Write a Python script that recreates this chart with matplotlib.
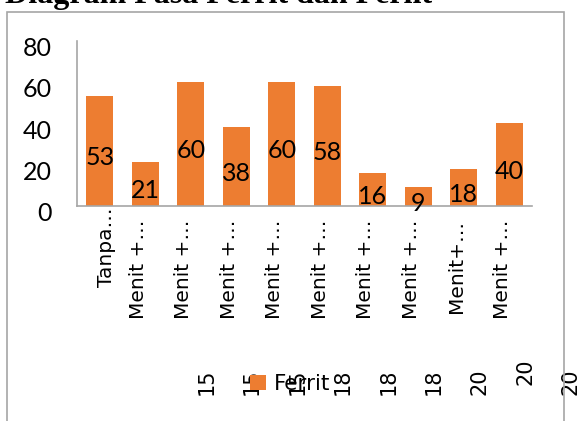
import matplotlib.pyplot as plt
from matplotlib import transforms
from matplotlib.patches import Rectangle

categories = ["Tanpa…", "Menit +…", "Menit +…", "Menit +…", "Menit +…",
              "Menit +…", "Menit +…", "Menit +…", "Menit+…", "Menit +…"]
minutes = ["", "15", "15", "15", "18", "18", "18", "20", "20", "20"]
ferrit = [53, 21, 60, 38, 60, 58, 16, 9, 18, 40]

orange = "#ED7D31"
grey = "#a6a6a6"

fig = plt.figure(figsize=(5.8, 4.21), dpi=100)
ax = fig.add_axes([77 / 580, 1 - 205.7 / 421, 455 / 580, 165 / 421])

x = list(range(len(ferrit)))
bars = ax.bar(x, ferrit, width=0.59, color=orange, label="Ferrit")

ax.set_xlim(-0.5, len(ferrit) - 0.5)
ax.set_ylim(0, 80)
ax.set_yticks([0, 20, 40, 60, 80])
ax.tick_params(axis="y", length=0, pad=18, labelsize=18)
for lbl in ax.get_yticklabels():
    lbl.set_fontfamily("Lato")
    lbl.set_transform(lbl.get_transform() + transforms.ScaledTranslation(0, -0.06, fig.dpi_scale_trans))

ax.set_xticks(x)
ax.set_xticklabels(categories, rotation=90, fontsize=14.5, va="top", ha="center")
ax.tick_params(axis="x", length=0, pad=10)
for i, lbl in enumerate(ax.get_xticklabels()):
    dx, dy = (0.07, 0.12) if i == 0 else (-0.07, 0)
    lbl.set_transform(lbl.get_transform() + transforms.ScaledTranslation(dx, dy, fig.dpi_scale_trans))

for s in ["top", "right"]:
    ax.spines[s].set_visible(False)
for s in ["left", "bottom"]:
    ax.spines[s].set_color(grey)
    ax.spines[s].set_linewidth(1.2)

# value labels in the middle of each bar
for rect, v in zip(bars, ferrit):
    ax.annotate(str(v), (rect.get_x() + rect.get_width() / 2, v / 2),
                xytext=(0, -5), textcoords="offset points",
                ha="center", va="center", fontsize=18, family="Lato")

# second line of the category labels, drawn lower and to the right
mix = transforms.blended_transform_factory(ax.transData, fig.transFigure)
for i, m in enumerate(minutes):
    if not m:
        continue
    y = 1 - 372 / 421 if i == 8 else 1 - 382 / 421
    ax.text(i + 1.35, y, m, transform=mix, rotation=90,
            ha="center", va="center", fontsize=15)

fig.legend(handles=[bars], labels=["Ferrit"], loc="center left",
           bbox_to_anchor=(250 / 580, 1 - 384 / 421), frameon=False,
           fontsize=15.5, handlelength=0.72, handleheight=0.72,
           handletextpad=0.4, borderpad=0, borderaxespad=0)

# chart border
fig.patches.append(Rectangle((7 / 580, -0.1), 557 / 580, 1.1 - 12 / 421,
                             transform=fig.transFigure, fill=False,
                             edgecolor=grey, linewidth=1.2))

fig.text(5 / 580, 1 - 3 / 421, "Diagram Fasa Ferrit dan Perlit",
         family="Liberation Serif", weight="bold", fontsize=23,
         ha="left", va="baseline")

fig.savefig("out.png", dpi=100)
